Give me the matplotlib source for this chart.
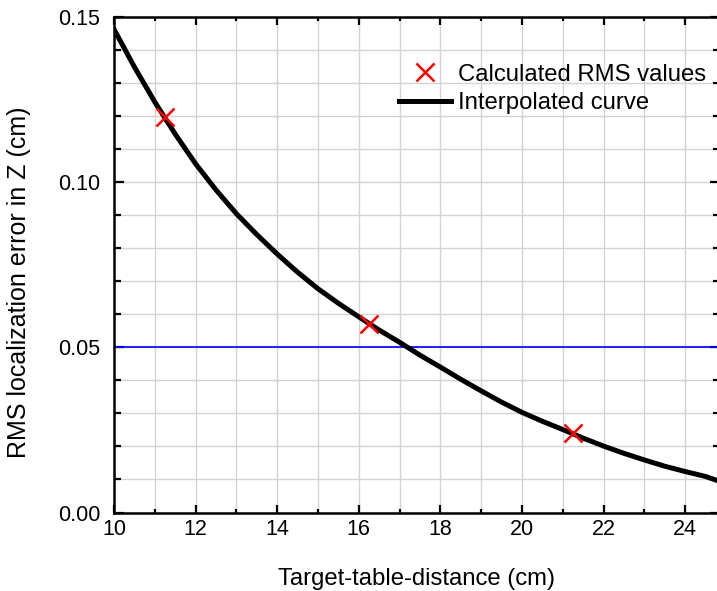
import matplotlib
matplotlib.use("Agg")
import matplotlib.pyplot as plt
from matplotlib.ticker import MultipleLocator

plt.rcParams['font.family'] = ['Liberation Sans', 'DejaVu Sans']

# calculated RMS localization error at three target-table distances
dist_calc = [11.25, 16.25, 21.25]
rms_calc = [0.1197, 0.0570, 0.0240]

# interpolated curve through the calculated values
dist_curve = [10.0, 10.5, 11.0, 11.5, 12.0, 12.5, 13.0, 13.5, 14.0, 14.5, 15.0,
              15.5, 16.0, 16.5, 17.0, 17.5, 18.0, 18.5, 19.0, 19.5, 20.0,
              20.5, 21.0, 21.5, 22.0, 22.5, 23.0, 23.5, 24.0, 24.5, 24.85]
rms_curve = [0.1462, 0.1348, 0.1242, 0.1145, 0.1055, 0.0976, 0.0904, 0.0841, 0.0782, 0.0727, 0.0677,
             0.0633, 0.0592, 0.0552, 0.0515, 0.0476, 0.0440, 0.0403, 0.0368, 0.0334, 0.0303,
             0.0276, 0.0251, 0.0225, 0.0201, 0.0179, 0.0159, 0.0140, 0.0124, 0.0109, 0.0094]

# required accuracy
limit = 0.05

fig = plt.figure(figsize=(7.17, 5.91), dpi=100)
ax = fig.add_axes([0.159, 0.1328, 0.845, 0.8389])

ax.axhline(limit, color='#0000ff', lw=1.2, zorder=2)
ax.plot(dist_curve, rms_curve, color='black', lw=3.6, zorder=3,
        solid_joinstyle='round', label='Interpolated curve')
ax.plot(dist_calc, rms_calc, ls='none', marker='x', ms=13, mew=1.8,
        color='#ff0000', zorder=4, label='Calculated RMS values')

ax.set_xlim(10, 24.85)
ax.set_ylim(0, 0.15)
ax.xaxis.set_major_locator(MultipleLocator(2))
ax.xaxis.set_minor_locator(MultipleLocator(1))
ax.yaxis.set_major_locator(MultipleLocator(0.05))
ax.yaxis.set_minor_locator(MultipleLocator(0.01))
ax.yaxis.set_major_formatter(plt.FormatStrFormatter('%.2f'))

ax.grid(which='both', color='#d3d3d3', lw=1.0, zorder=0)
ax.set_axisbelow(True)

for s in ax.spines.values():
    s.set_linewidth(1.8)
ax.tick_params(which='both', direction='in', top=True, right=True,
               width=1.6, labelsize=15.5)
ax.tick_params(axis='x', which='major', length=6, pad=5)
ax.tick_params(axis='x', which='minor', length=3)
ax.tick_params(axis='y', which='major', length=7, pad=10)
ax.tick_params(axis='y', which='minor', length=5)

ax.set_xlabel('Target-table-distance (cm)', fontsize=17.2, labelpad=20)
ax.set_ylabel('RMS localization error in Z (cm)', fontsize=18)
ax.yaxis.set_label_coords(-0.137, 0.465)

h, l = ax.get_legend_handles_labels()
ax.legend(h[::-1], l[::-1], loc='upper left', bbox_to_anchor=(0.47, 0.905),
          frameon=False, fontsize=17.2, handlelength=2.2, handletextpad=0.3,
          labelspacing=0.27, borderpad=0, borderaxespad=0)

fig.savefig('out.png', dpi=100)
